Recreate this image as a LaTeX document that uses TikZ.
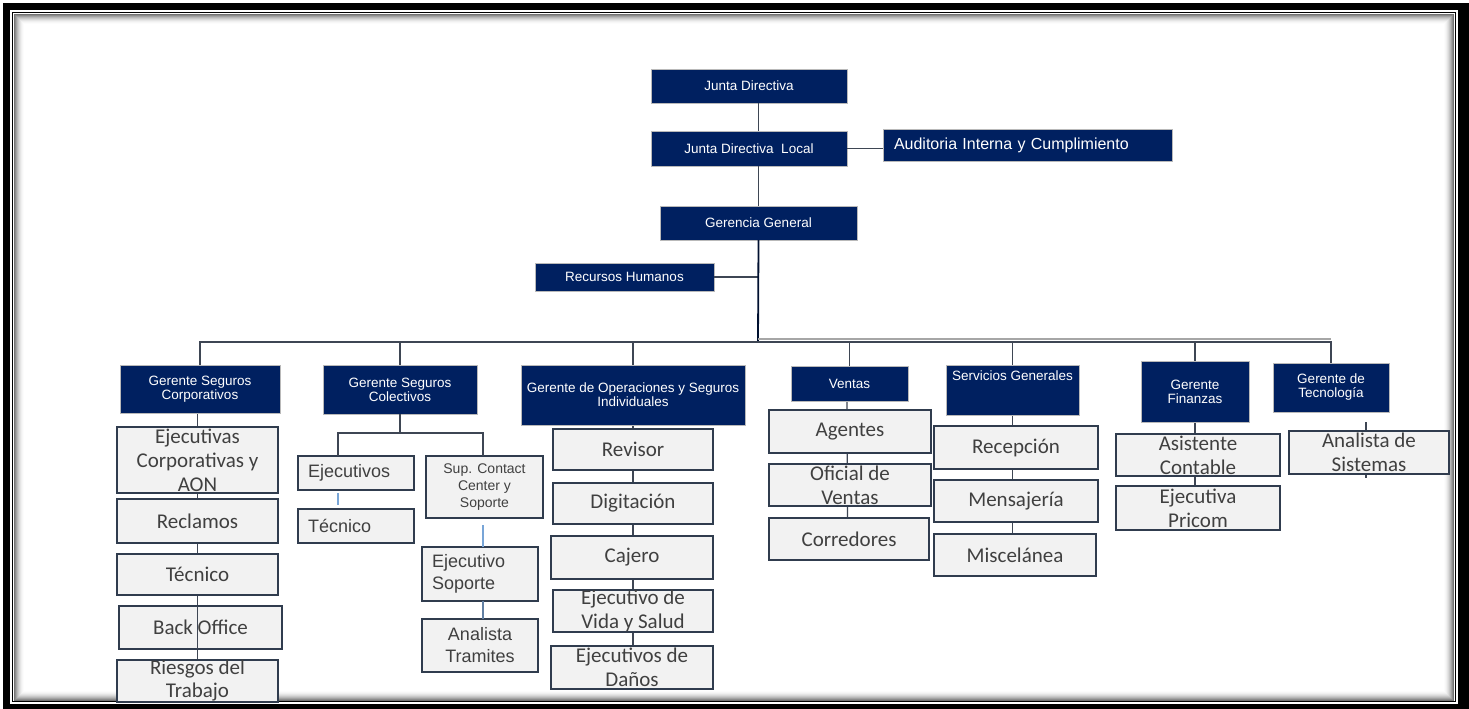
\documentclass[tikz,border=0pt]{standalone}
\usepackage{fontspec}
\setmainfont{Liberation Sans}
\newfontfamily\calibri{Carlito}
\usetikzlibrary{positioning,calc,backgrounds}

\definecolor{marino}{RGB}{0,32,96}
\definecolor{grisclaro}{RGB}{242,242,242}
\definecolor{borde}{RGB}{48,60,78}
\definecolor{conector}{RGB}{62,70,84}
\definecolor{azulclaro}{RGB}{120,165,215}
\definecolor{textogris}{RGB}{64,64,64}

\begin{document}
\begin{tikzpicture}[
    x=1pt, y=-1pt,
    jefe/.style   ={draw=gray!55, fill=marino, text=white, align=center,
                    inner sep=1pt, outer sep=0pt, line width=0.8pt,
                    font=\fontsize{13.5}{14}\selectfont},
    puesto/.style ={draw=borde, fill=grisclaro, text=textogris, align=center,
                    inner xsep=2pt, inner ysep=0pt, outer sep=0pt, line width=1.3pt,
                    minimum width=161pt, font=\calibri\fontsize{21}{24}\selectfont},
    puestoa/.style={puesto, minimum width=116pt, font=\fontsize{18}{22}\selectfont},
    izq/.style    ={text width=96pt, inner xsep=10pt, align=left},
    linea/.style  ={draw=conector, line width=1.2pt},
    lineaz/.style ={draw=azulclaro, line width=1.2pt},
]
\useasboundingbox (0,0) rectangle (1469,709);

% ============================================================
% MARCO (borde negro + sombra interior)
% ============================================================
\begin{pgfonlayer}{background}
  \fill[black] (3,3) rectangle (1469,709);
  \fill[white] (10,10) rectangle (1458,704);
  \draw[black, line width=1.2pt] (12.5,12.5) rectangle (1455.5,701.5);
  \foreach \i/\g in {0/55,1/45,2/36,3/28,4/21,5/15,6/10,7/6,8/3,9/1}
    \draw[black!\g, line width=1pt] (14.5+\i,14.5+\i) rectangle (1453.5-\i,700.5-\i);
\end{pgfonlayer}

% ============================================================
% DIRECCION
% ============================================================
\node[jefe, minimum width=196pt, minimum height=34pt] (jd)  at (749,86)    {Junta Directiva};
\node[jefe, minimum width=196pt, minimum height=35pt] (jdl) at (749,148.5) {Junta Directiva\ \ Local};
\node[jefe, text width=267pt, inner xsep=11pt, align=left, minimum height=32pt,
      font=\fontsize{16}{18}\selectfont] (aud) at (1027.5,145) {Auditoria Interna y Cumplimiento};
\node[jefe, minimum width=197pt, minimum height=34pt] (gg)  at (758.5,223) {Gerencia General};
\node[jefe, minimum width=179pt, minimum height=28pt] (rh)  at (624.5,277) {Recursos Humanos};

% ============================================================
% GERENCIAS
% ============================================================
\node[jefe, minimum width=160pt, minimum height=48pt] (corp) at (200,389)    {Gerente Seguros\\Corporativos};
\node[jefe, minimum width=154pt, minimum height=49pt] (cole) at (400,389.5)  {Gerente Seguros\\Colectivos};
\node[jefe, minimum width=224pt, minimum height=60pt] (oper) at (633,395)    {Gerente de Operaciones y Seguros\\Individuales};
\node[jefe, minimum width=117pt, minimum height=35pt] (vent) at (849.5,383.5){Ventas};
\node[jefe, minimum width=133pt, minimum height=50pt,
      text height=10pt, text depth=30pt]              (serv) at (1012.5,390) {Servicios Generales};
\node[jefe, minimum width=108pt, minimum height=61pt] (fin)  at (1195,391.5) {Gerente\\Finanzas};
\node[jefe, minimum width=116pt, minimum height=49pt] (tec)  at (1331,387.5) {Gerente de\\Tecnología};

% --- Seguros Corporativos ---
\node[puesto, minimum height=66pt, below=14pt of corp, xshift=-2.5pt] (ejcorp) {Ejecutivas\\Corporativas y\\AON};
\node[puesto, minimum height=44pt, below=6pt of ejcorp]               (recl)   {Reclamos};
\node[puesto, minimum height=41pt, below=11pt of recl]                (tecc)   {Técnico};
\node[puesto, minimum width=163pt, minimum height=43pt,
      below=11pt of tecc, xshift=3pt]                                 (back)   {Back Office};
\node[puesto, minimum height=42pt, below=11pt of back, xshift=-3pt,
      font=\calibri\fontsize{21}{23}\selectfont]                      (riesg)  {Riesgos del\\Trabajo};

% --- Seguros Colectivos ---
\node[puestoa, izq, minimum height=34pt, below=42pt of cole, xshift=-44pt] (ejec)  {Ejecutivos};
\node[puestoa, izq, minimum height=34pt, below=19pt of ejec]               (tecn)  {Técnico};
\node[puestoa, minimum width=117pt, minimum height=62pt, right=12pt of ejec.north east, anchor=north west,
      font=\fontsize{14}{17}\selectfont]                                   (sup)   {Sup. Contact\\Center y\\Soporte};
\node[puestoa, izq, minimum height=54pt, below=29pt of sup, xshift=-4.5pt] (ejsop) {Ejecutivo\\Soporte};
\node[puestoa, minimum height=53pt, below=18pt of ejsop]                   (anal)  {Analista\\Tramites};

% --- Operaciones ---
\node[puesto, minimum width=160pt, minimum height=41pt, below=4pt of oper]  (revi)  {Revisor};
\node[puesto, minimum width=160pt, minimum height=41pt, below=13pt of revi] (digi)  {Digitación};
\node[puesto, minimum width=162pt, minimum height=43pt, below=12pt of digi, xshift=-1pt] (caje) {Cajero};
\node[puesto, minimum width=160pt, minimum height=42pt, below=11pt of caje, xshift=1pt]  (vida) {Ejecutivo de\\Vida y Salud};
\node[puesto, minimum width=162pt, minimum height=43pt, below=14pt of vida, xshift=-1pt] (danos) {Ejecutivos de\\Daños};

% --- Ventas ---
\node[puesto, minimum width=162pt, minimum height=43pt, below=9pt of vent, xshift=0.5pt] (agen) {Agentes};
\node[puesto, minimum width=162pt, minimum height=42pt, below=11pt of agen]              (ofic) {Oficial de\\Ventas};
\node[puesto, minimum width=160pt, minimum height=42pt, below=12pt of ofic, xshift=-1pt] (corr) {Corredores};

% --- Servicios Generales ---
\node[puesto, minimum width=164pt, minimum height=43pt, below=11pt of serv, xshift=3.5pt] (rece) {Recepción};
\node[puesto, minimum width=164pt, minimum height=42pt, below=11pt of rece]              (mens) {Mensajería};
\node[puesto, minimum width=162pt, minimum height=42pt, below=12pt of mens, xshift=-1pt] (misc) {Miscelánea};

% --- Finanzas ---
\node[puesto, minimum width=164pt, minimum height=42pt, below=12pt of fin, xshift=3pt] (asis) {Asistente\\Contable};
\node[puesto, minimum width=164pt, minimum height=44pt, below=10pt of asis]            (pric) {Ejecutiva\\Pricom};

% --- Tecnologia ---
\node[puesto, minimum width=160pt, minimum height=43pt, below=19pt of tec, xshift=38pt] (sist) {Analista de\\Sistemas};

% ============================================================
% CONECTORES
% ============================================================
\coordinate (bus)   at (758,342);
\coordinate (ramaI) at (338,433);
\coordinate (ramaD) at (483,433);

\draw[linea] (jd.south -| gg.south)  -- (jdl.north -| gg.south);
\draw[linea] (jdl.south -| gg.south) -- (gg.north);
\draw[linea] (jdl.east) -- (jdl.east -| aud.west);
\draw[linea] (rh.east)  -- (rh.east -| gg.south);
\draw[linea, line width=1.8pt, draw=marino!50!black] (gg.south) -- (bus);

% barra horizontal y bajadas
\draw[gray!70, line width=2pt] ($(bus)+(0,-3.5)$) -- ($(bus -| tec.north)+(0,-3.5)$);
\draw[linea] (corp.north) |- (bus) -| (tec.north);
\foreach \n in {cole,oper,vent,serv,fin}
  \draw[linea] (bus -| \n.north) -- (\n.north);

% columnas (detras de las cajas)
\begin{pgfonlayer}{background}
  \draw[linea] (corp.south -| ejcorp) -- (riesg.north);
  \draw[linea] (oper.south) -- (oper.south |- danos.north);
  \draw[linea] ($(vent.south)+(-2.5,0)$) -- ($(corr.north)+(-1.5,0)$);
  \draw[linea] (serv.south) -- (serv.south |- misc.north);
  \draw[linea] (fin.south)  -- (fin.south |- pric.north);
  \draw[linea] ($(sist.north)+(-3,-9)$) -- ($(sist.south)+(-3,4)$);
\end{pgfonlayer}
\draw[linea] (back.north -| riesg) -- (back.south -| riesg);

% colectivos
\draw[linea] (cole.south) -- (cole.south |- ramaI);
\draw[linea] (ramaI |- ejec.north) -- (ramaI) -- (ramaD) -- (ramaD |- sup.north);
\draw[lineaz, shorten <=3pt, shorten >=4pt] (ramaI |- ejec.south) -- (ramaI |- tecn.north);
\draw[lineaz, shorten <=7pt] (ramaD |- sup.south) -- (ramaD |- ejsop.north);
\draw[lineaz, draw=azulclaro!60!conector] (ramaD |- ejsop.south) -- (ramaD |- anal.north);

\end{tikzpicture}
\end{document}
